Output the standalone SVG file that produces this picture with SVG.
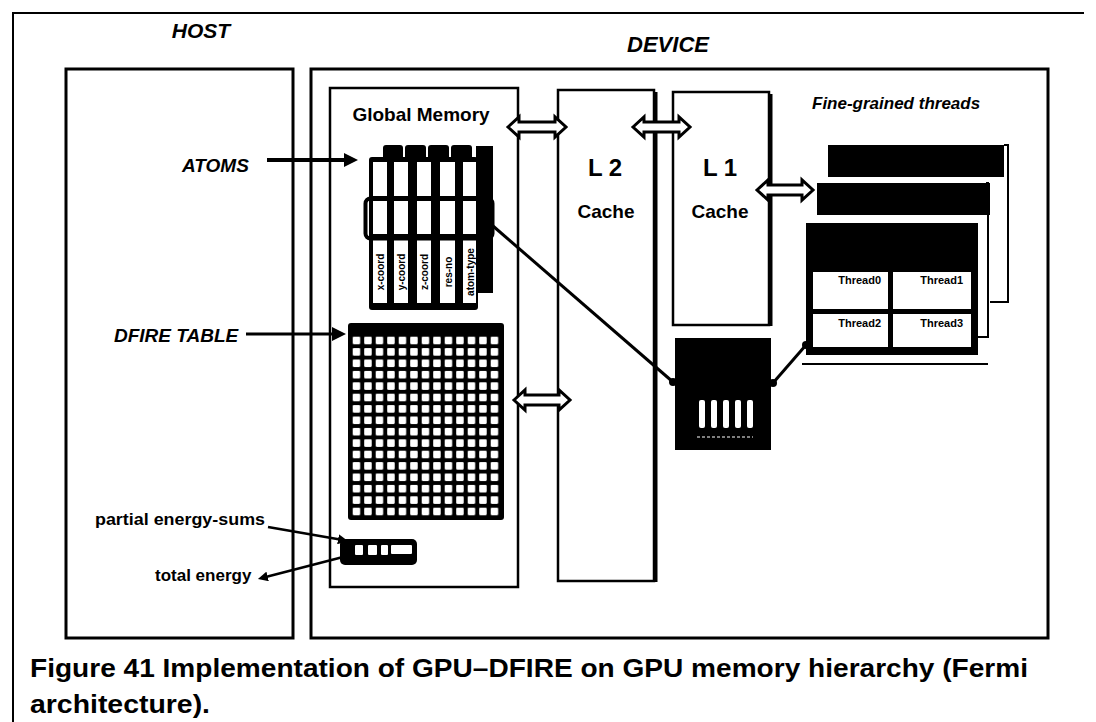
<svg xmlns="http://www.w3.org/2000/svg" width="1096" height="722" viewBox="0 0 1096 722">
<style>
.box{fill:none;stroke:#000;stroke-width:3}
.thin{fill:none;stroke:#000;stroke-width:2.5}
.t{font-family:"Liberation Sans",Arial,sans-serif;font-weight:bold;fill:#000}
.it{font-style:italic}
.dbl{fill:#fff;stroke:#000;stroke-width:3;stroke-linejoin:miter}
.con{stroke:#000;fill:none}
.blk{fill:#000}
.wh{fill:#fff}
.col{font-family:"Liberation Sans",Arial,sans-serif;font-weight:bold;font-size:10px;fill:#000}
.cell{font-family:"Liberation Sans",Arial,sans-serif;font-weight:bold;font-size:11px;fill:#000;text-anchor:end}
</style>
<defs>
<marker id="arr" markerUnits="userSpaceOnUse" markerWidth="14" markerHeight="14" viewBox="0 0 14 14" refX="3" refY="7" orient="auto"><path d="M0,0 L14,7 L0,14 Z" fill="#000"/></marker>
<marker id="arrs" markerUnits="userSpaceOnUse" markerWidth="10" markerHeight="10" viewBox="0 0 10 10" refX="2" refY="5" orient="auto"><path d="M0,0 L10,5 L0,10 Z" fill="#000"/></marker>
<pattern id="grid" patternUnits="userSpaceOnUse" x="352.7" y="336.7" width="11.5" height="11.4"><rect x="0" y="0" width="7.5" height="7.5" rx="1" fill="#fff"/></pattern>
</defs>
<rect width="1096" height="722" fill="#fff"/>

<g id="frame">
<line x1="12" y1="13" x2="1084" y2="13" stroke="#000" stroke-width="2"/>
<line x1="13" y1="12" x2="13" y2="722" stroke="#000" stroke-width="2"/>
</g>

<g id="host">
<text class="t it" x="201" y="38" font-size="21" text-anchor="middle">HOST</text>
<rect class="box" x="66" y="69" width="227" height="569"/>
<text class="t it" x="182" y="172" font-size="19">ATOMS</text>
<text class="t it" x="114" y="342" font-size="19">DFIRE TABLE</text>
<text class="t" x="95" y="525" font-size="17" textLength="170" lengthAdjust="spacingAndGlyphs">partial energy-sums</text>
<text class="t" x="155" y="581" font-size="17">total energy</text>
</g>

<g id="device">
<text class="t it" x="668" y="52" font-size="22" text-anchor="middle">DEVICE</text>
<rect class="box" x="311" y="69" width="737" height="569"/>
</g>

<g id="global-memory">
<rect class="thin" x="330" y="88" width="188" height="499"/>
<text class="t" x="421" y="121" font-size="19" text-anchor="middle">Global Memory</text>
</g>

<g id="atoms-array">
<rect class="blk" x="383" y="145" width="20" height="16" rx="3"/>
<rect class="blk" x="405" y="145" width="21" height="16" rx="3"/>
<rect class="blk" x="428" y="145" width="21" height="16" rx="3"/>
<rect class="blk" x="451" y="145" width="21" height="16" rx="3"/>
<rect class="blk" x="369" y="157" width="109" height="153" rx="3"/>
<rect class="blk" x="476" y="146" width="17" height="147"/>
<g class="wh">
<rect x="373" y="162" width="14" height="34"/><rect x="394" y="162" width="14" height="34"/><rect x="417" y="162" width="14" height="34"/><rect x="440" y="162" width="15" height="34"/><rect x="463" y="162" width="13" height="34"/>
<rect x="373" y="201" width="14" height="33"/><rect x="394" y="201" width="14" height="33"/><rect x="417" y="201" width="14" height="33"/><rect x="440" y="201" width="15" height="33"/><rect x="463" y="201" width="13" height="33"/>
<rect x="373" y="240" width="14" height="63"/><rect x="394" y="240" width="14" height="63"/><rect x="417" y="240" width="14" height="63"/><rect x="440" y="240" width="15" height="63"/><rect x="463" y="240" width="13" height="63"/>
</g>
<rect x="365.5" y="198.5" width="127" height="40" rx="5" fill="none" stroke="#000" stroke-width="4"/>
<text class="col" transform="translate(384,272) rotate(-90)" text-anchor="middle">x-coord</text>
<text class="col" transform="translate(405,272) rotate(-90)" text-anchor="middle">y-coord</text>
<text class="col" transform="translate(428,272) rotate(-90)" text-anchor="middle">z-coord</text>
<text class="col" transform="translate(451.5,272) rotate(-90)" text-anchor="middle">res-no</text>
<text class="col" transform="translate(473.5,272) rotate(-90)" text-anchor="middle">atom-type</text>
</g>

<g id="dfire-table">
<rect class="blk" x="348" y="323" width="156" height="197" rx="3"/>
<rect x="351" y="336" width="150" height="183" fill="url(#grid)"/>
</g>

<g id="partial-sums">
<rect class="blk" x="340" y="539" width="77" height="26" rx="5"/>
<rect class="wh" x="355" y="545" width="8" height="10" rx="1"/>
<rect class="wh" x="368" y="545" width="9" height="10" rx="1"/>
<rect class="wh" x="381" y="545" width="7" height="10" rx="1"/>
<rect class="wh" x="391" y="545" width="21" height="9" rx="1"/>
</g>

<g id="l2-cache">
<rect class="thin" x="558" y="90" width="96" height="491"/>
<line x1="656" y1="92" x2="656" y2="582" stroke="#000" stroke-width="3"/>
<text class="t" x="605" y="176" font-size="24" text-anchor="middle">L 2</text>
<text class="t" x="606" y="218" font-size="19" text-anchor="middle">Cache</text>
</g>

<g id="l1-cache">
<rect class="thin" x="673" y="92" width="96" height="233"/>
<line x1="771" y1="94" x2="771" y2="326" stroke="#000" stroke-width="3"/>
<text class="t" x="720" y="176" font-size="24" text-anchor="middle">L 1</text>
<text class="t" x="720" y="218" font-size="19" text-anchor="middle">Cache</text>
</g>

<g id="sm-block">
<rect class="blk" x="675" y="338" width="96" height="112"/>
<rect class="wh" x="699" y="400" width="6" height="28" rx="2"/>
<rect class="wh" x="711" y="400" width="6" height="28" rx="2"/>
<rect class="wh" x="723" y="400" width="6" height="28" rx="2"/>
<rect class="wh" x="735" y="400" width="6" height="28" rx="2"/>
<rect class="wh" x="747" y="400" width="6" height="28" rx="2"/>
<line x1="697" y1="437" x2="753" y2="437" stroke="#fff" stroke-width="1" stroke-dasharray="3 2"/>
</g>

<g id="threads">
<text class="t it" x="812" y="109" font-size="17">Fine-grained threads</text>
<rect class="blk" x="828" y="145" width="176" height="32"/>
<path d="M1004,145 L1008,145 L1008,302 L990,302" fill="none" stroke="#000" stroke-width="2"/>
<rect class="blk" x="817" y="183" width="173" height="32"/>
<path d="M986,183 L988,183 L988,337 L978,337" fill="none" stroke="#000" stroke-width="2"/>
<rect class="blk" x="806" y="223" width="172" height="132"/>
<line x1="802" y1="364" x2="988" y2="364" stroke="#000" stroke-width="2"/>
<rect class="wh" x="813" y="272" width="75" height="37"/>
<rect class="wh" x="893" y="272" width="78" height="37"/>
<rect class="wh" x="813" y="314" width="75" height="33"/>
<rect class="wh" x="893" y="314" width="78" height="33"/>
<text class="cell" x="881" y="284">Thread0</text>
<text class="cell" x="963" y="284">Thread1</text>
<text class="cell" x="881" y="327">Thread2</text>
<text class="cell" x="963" y="327">Thread3</text>
</g>

<g id="connectors">
<line class="con" x1="267" y1="160" x2="347" y2="160" stroke-width="4" marker-end="url(#arr)"/>
<line class="con" x1="246" y1="334" x2="335" y2="334" stroke-width="3" marker-end="url(#arr)"/>
<line class="con" x1="268" y1="527" x2="340" y2="539.6" stroke-width="2.5" marker-end="url(#arrs)"/>
<line class="con" x1="343" y1="557" x2="265.7" y2="577" stroke-width="2.5" marker-end="url(#arrs)"/>
<line class="con" x1="493" y1="226" x2="673" y2="382" stroke-width="3"/>
<circle cx="673" cy="382" r="4" class="blk"/>
<line class="con" x1="773" y1="383" x2="806" y2="345" stroke-width="3"/>
<circle cx="773" cy="383" r="4" class="blk"/>
<circle cx="806" cy="345" r="4" class="blk"/>
<path class="dbl" d="M508 127 L519 117 L519 122 L555 122 L555 117 L566 127 L555 137 L555 132 L519 132 L519 137 Z"/>
<path class="dbl" d="M633 127 L644 117 L644 122 L679 122 L679 117 L690 127 L679 137 L679 132 L644 132 L644 137 Z"/>
<path class="dbl" d="M757 190 L768 180 L768 185 L802 185 L802 180 L813 190 L802 200 L802 195 L768 195 L768 200 Z"/>
<path class="dbl" d="M514 400 L525 390 L525 395 L559 395 L559 390 L570 400 L559 410 L559 405 L525 405 L525 410 Z"/>
</g>

<g id="caption">
<text class="t" x="30" y="677" font-size="26" textLength="998" lengthAdjust="spacingAndGlyphs">Figure 41 Implementation of GPU–DFIRE on GPU memory hierarchy (Fermi</text>
<text class="t" x="30" y="713" font-size="26" textLength="180" lengthAdjust="spacingAndGlyphs">architecture).</text>
</g>
</svg>
